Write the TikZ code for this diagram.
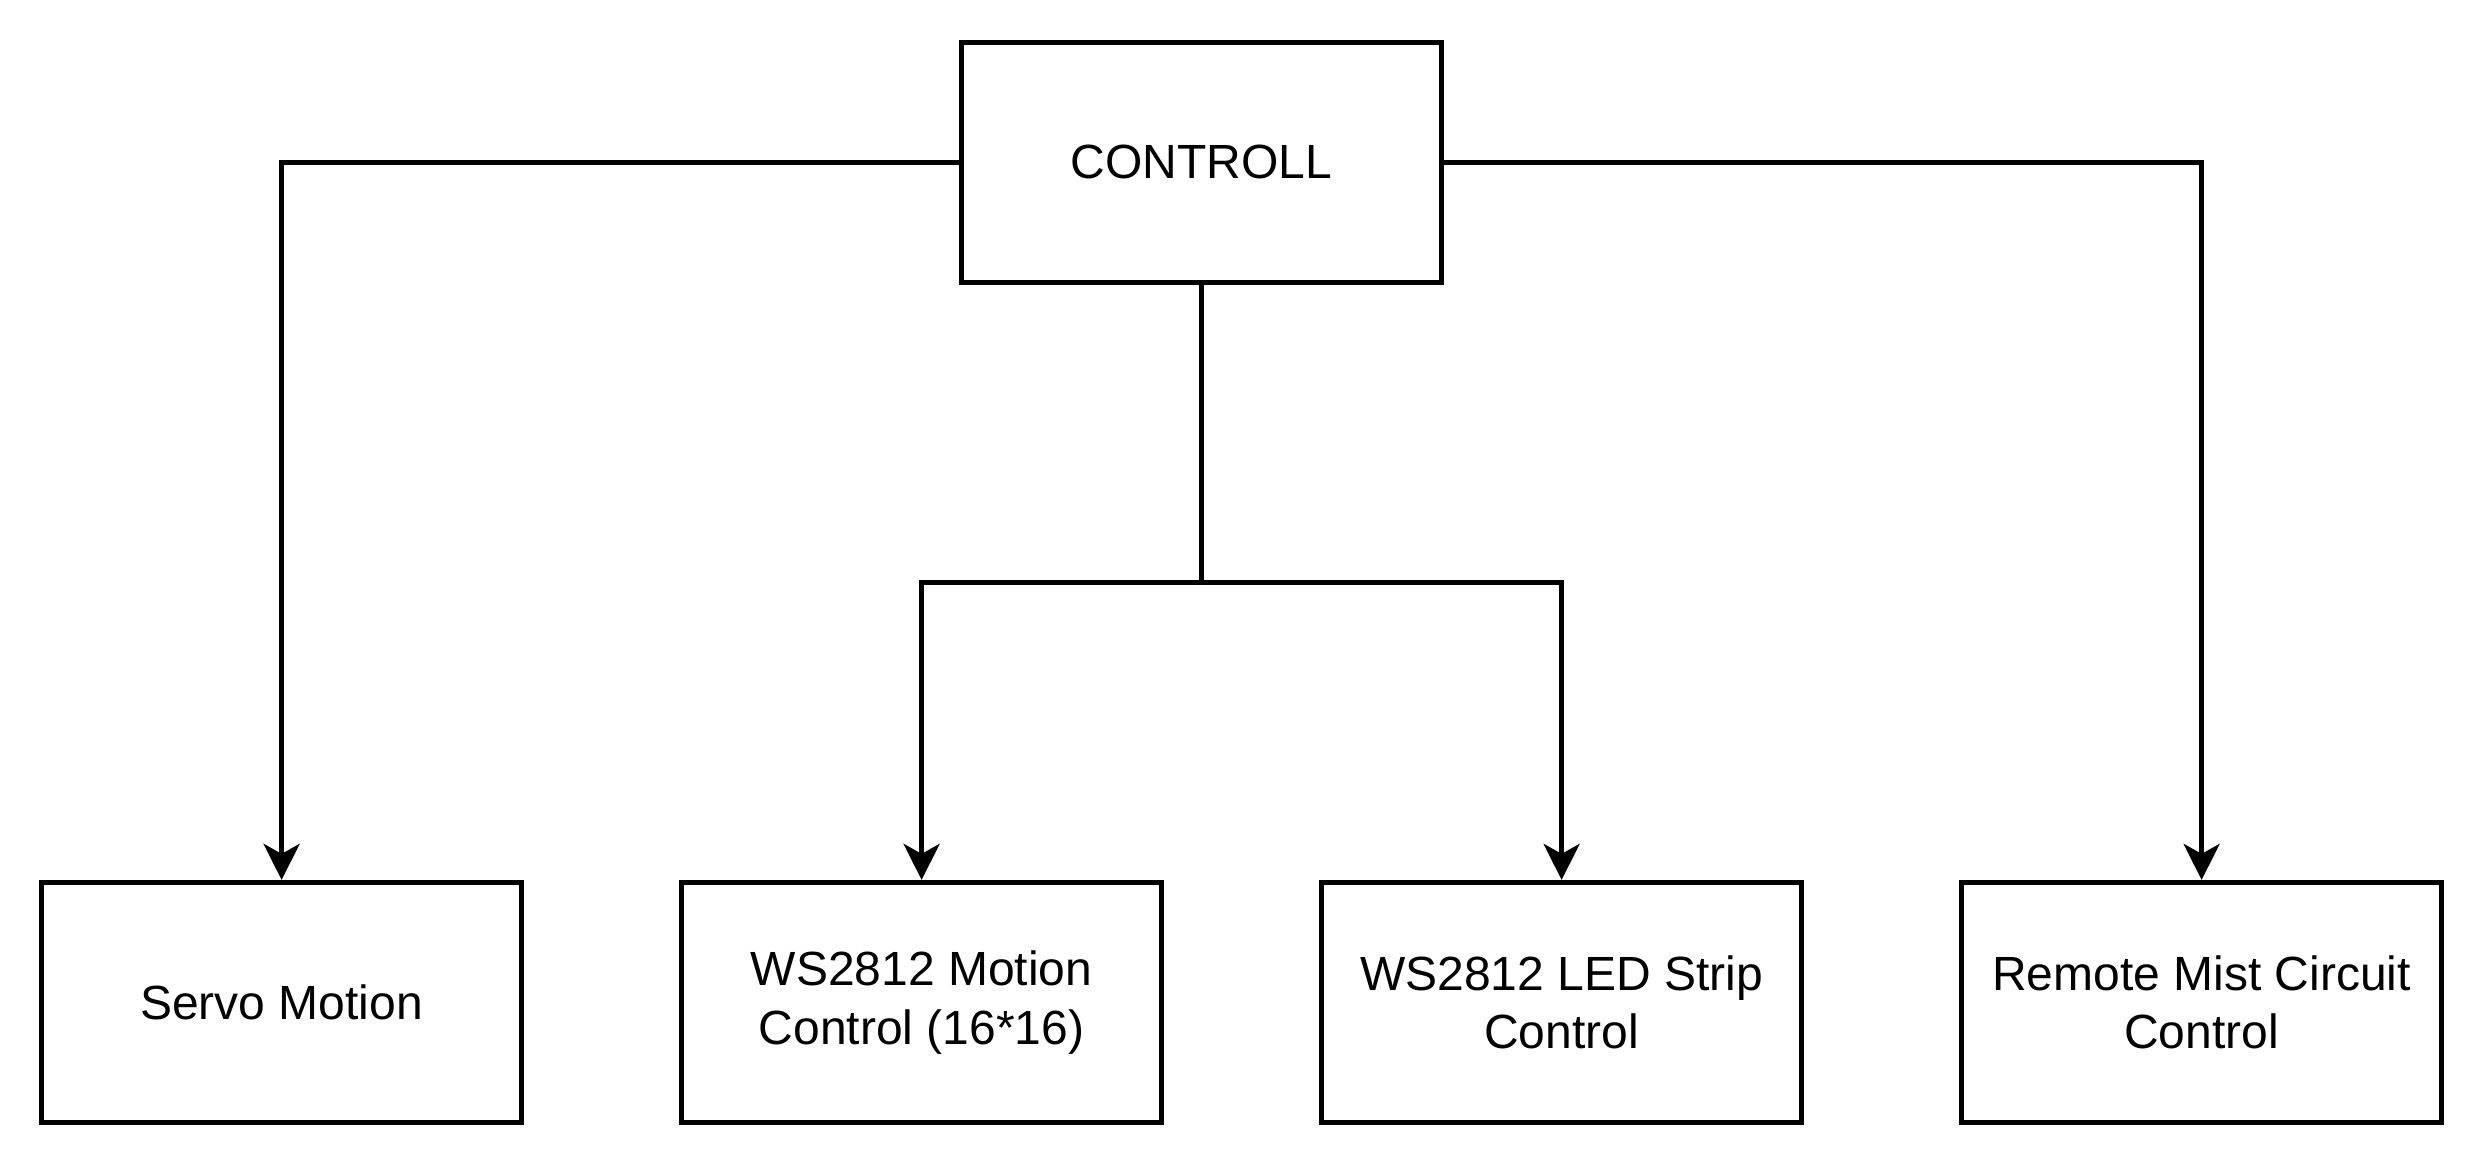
\documentclass[tikz,border=0pt]{standalone}
\usepackage{fontspec}
\setmainfont{Liberation Sans}
\usetikzlibrary{arrows.meta}
\begin{document}
\begin{tikzpicture}[x=1pt,y=-1pt,
  box/.style={draw, line width=1.25pt, minimum width=120pt, minimum height=60pt, align=center, inner sep=0pt, font=\fontsize{12}{14.6}\selectfont},
  conn/.style={line width=1.25pt},
  arr/.style={conn, -{Stealth[length=9pt,width=9pt,inset=2.5pt]}}]
\useasboundingbox (0,0) rectangle (621,291);
\begin{scope}[shift={(0.4,0.6)}]
\node[box] (ctrl) at (300,40) {CONTROLL};
\node[box] (servo) at (70,250) {Servo Motion};
\node[box] (motion) at (230,250) {WS2812 Motion\\Control (16*16)};
\node[box] (led) at (390,250) {WS2812 LED Strip\\Control};
\node[box] (remote) at (550,250) {Remote Mist Circuit\\Control};
\coordinate (j) at (300,145);
\draw[arr] (ctrl.west) -| (servo.north);
\draw[arr] (ctrl.east) -| (remote.north);
\draw[conn] (ctrl.south) -- (j);
\draw[arr] (j) -| (motion.north);
\draw[arr] (j) -| (led.north);
\end{scope}
\end{tikzpicture}
\end{document}
